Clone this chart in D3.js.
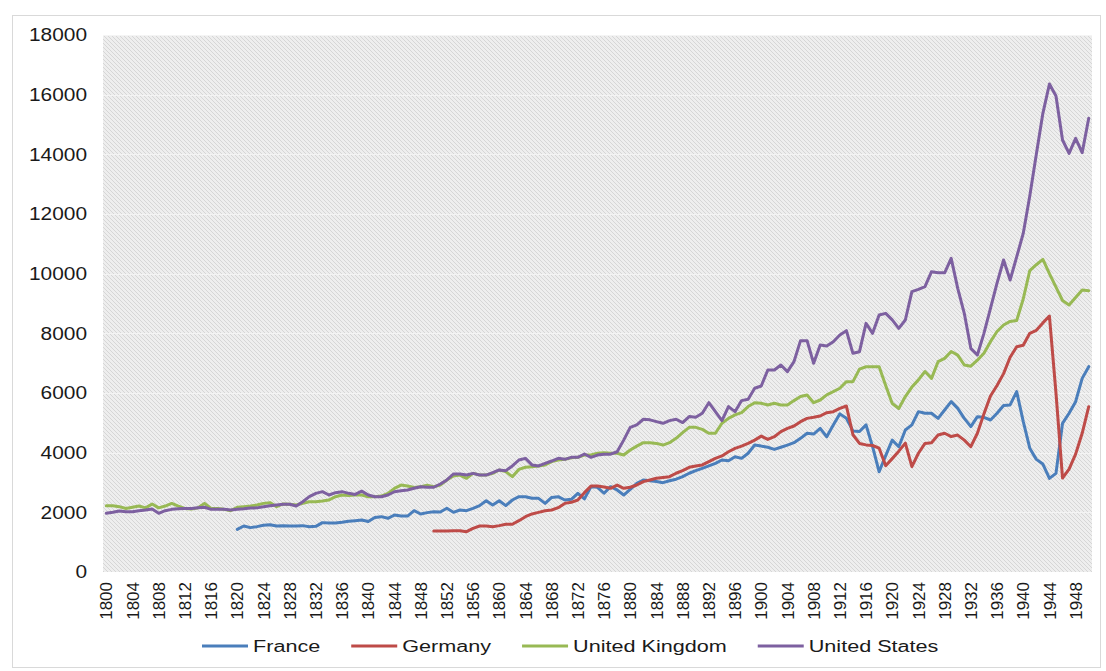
<!DOCTYPE html>
<html>
<head>
<meta charset="utf-8">
<script src="https://cdn.jsdelivr.net/npm/d3@7"></script>
<style>
  body { margin: 0; background: #fff; }
  svg { display: block; font-family: "Liberation Sans", Arial, sans-serif; }
  .axis text { fill: #1a1a1a; }
</style>
</head>
<body>
<div id="container"></div>
<script>
var width = 1106;
var height = 671;

// years 1800..1950
var years = d3.range(1800, 1951);

var ukValues = [
  2220, 2220, 2190, 2130, 2170, 2210, 2150, 2280, 2150, 2210,
  2300, 2210, 2130, 2110, 2150, 2300, 2130, 2130, 2100, 2055,
  2170, 2190, 2210, 2245, 2300, 2325, 2190, 2280, 2270, 2245,
  2300, 2355, 2355, 2380, 2413, 2525, 2580, 2560, 2580, 2580,
  2525, 2525, 2545, 2637, 2805, 2915, 2880, 2830, 2860, 2905,
  2860, 2915, 3085, 3218, 3250, 3140, 3307, 3250, 3250, 3307,
  3420, 3363, 3196, 3440, 3510, 3531, 3555, 3590, 3700, 3754,
  3776, 3830, 3843, 3920, 3920, 3978, 4000, 3980, 3980, 3920,
  4090, 4220, 4335, 4335, 4310, 4255, 4335, 4480, 4670, 4850,
  4850, 4780, 4650, 4650, 4985, 5150, 5265, 5340, 5545, 5675,
  5655, 5600, 5655, 5600, 5600, 5745, 5880, 5935, 5675, 5765,
  5935, 6045, 6160, 6380, 6380, 6800, 6880, 6880, 6880, 6250,
  5650, 5480, 5880, 6200, 6440, 6720, 6490, 7050, 7160, 7390,
  7270, 6940, 6900, 7100, 7330, 7720, 8060, 8280, 8400, 8430,
  9150, 10100, 10300, 10480, 10000, 9550, 9100, 8950, 9200, 9450,
  9430
];

var usValues = [
  1967, 2000, 2045, 2020, 2020, 2055, 2080, 2110, 1967, 2055,
  2100, 2120, 2130, 2130, 2150, 2170, 2100, 2100, 2100, 2080,
  2100, 2120, 2145, 2150, 2190, 2220, 2245, 2270, 2270, 2210,
  2355, 2525, 2637, 2693, 2580, 2660, 2693, 2637, 2600, 2710,
  2580, 2525, 2525, 2580, 2690, 2725, 2750, 2805, 2860, 2840,
  2840, 2950, 3085, 3285, 3285, 3250, 3307, 3250, 3250, 3330,
  3420, 3397, 3555, 3754, 3810, 3590, 3555, 3643, 3720, 3810,
  3776, 3843, 3843, 3955, 3843, 3920, 3950, 3950, 4030, 4420,
  4850, 4930, 5120, 5100, 5040, 4985, 5075, 5120, 5010, 5210,
  5185, 5320, 5675, 5375, 5075, 5545, 5375, 5745, 5790, 6160,
  6235, 6770, 6770, 6940, 6715, 7050, 7755, 7755, 6995, 7610,
  7575, 7720, 7945, 8090, 7330, 7385, 8335, 8000, 8615, 8670,
  8450, 8168, 8447, 9397, 9475, 9564, 10067, 10030, 10030, 10514,
  9508, 8670, 7497, 7274, 8000, 8838, 9680, 10458, 9788, 10560,
  11350, 12600, 14000, 15375, 16358, 15955, 14481, 14034, 14537, 14056,
  15207
];

// France starts in 1820
var franceValues = [
  null, null, null, null, null, null, null, null, null, null,
  null, null, null, null, null, null, null, null, null, null,
  1430, 1543, 1487, 1520, 1565, 1587, 1543, 1554, 1543, 1543,
  1554, 1520, 1530, 1655, 1643, 1643, 1665, 1700, 1720, 1743,
  1690, 1830, 1855, 1800, 1910, 1875, 1875, 2055, 1945, 1990,
  2020, 2010, 2135, 2000, 2078, 2055, 2135, 2225, 2390, 2245,
  2390, 2225, 2413, 2525, 2525, 2470, 2470, 2300, 2500, 2525,
  2413, 2435, 2637, 2450, 2860, 2840, 2640, 2860, 2750, 2580,
  2770, 2970, 3085, 3060, 3030, 2995, 3060, 3110, 3195, 3310,
  3400, 3475, 3555, 3640, 3755, 3730, 3865, 3810, 3980, 4255,
  4220, 4180, 4110, 4180, 4255, 4335, 4480, 4650, 4625, 4815,
  4535, 4930, 5300, 5150, 4730, 4710, 4930, 4200, 3360, 3900,
  4420, 4200, 4760, 4930, 5375, 5320, 5320, 5150, 5430, 5710,
  5486, 5150, 4872, 5207, 5185, 5095, 5320, 5580, 5600, 6045,
  5050, 4150, 3775, 3620, 3140, 3307, 4984, 5320, 5710, 6490,
  6883
];

// Germany starts in 1850
var germanyValues = [
  null, null, null, null, null, null, null, null, null, null,
  null, null, null, null, null, null, null, null, null, null,
  null, null, null, null, null, null, null, null, null, null,
  null, null, null, null, null, null, null, null, null, null,
  null, null, null, null, null, null, null, null, null, null,
  1375, 1375, 1375, 1385, 1385, 1352, 1465, 1543, 1543, 1520,
  1554, 1600, 1600, 1720, 1855, 1945, 2000, 2055, 2078, 2157,
  2300, 2335, 2413, 2660, 2880, 2880, 2850, 2805, 2915, 2805,
  2840, 2915, 3030, 3085, 3140, 3170, 3195, 3310, 3400, 3510,
  3555, 3590, 3700, 3810, 3890, 4030, 4145, 4220, 4310, 4420,
  4555, 4445, 4535, 4705, 4815, 4895, 5040, 5150, 5185, 5230,
  5340, 5375, 5485, 5565, 4600, 4310, 4260, 4240, 4150, 3560,
  3800, 4050, 4320, 3530, 3980, 4310, 4330, 4590, 4650, 4540,
  4590, 4420, 4200, 4650, 5300, 5900, 6250, 6650, 7200, 7550,
  7600, 8000, 8100, 8350, 8580, 6000, 3150, 3450, 3950, 4650,
  5540
];

var seriesNames = ["France", "Germany", "United Kingdom", "United States"];
var seriesColors = ["#4a7ebb", "#be4b48", "#98b954", "#7d60a0"];
var yTicks = d3.range(0, 18001, 2000);

var series = [franceValues, germanyValues, ukValues, usValues].map(function(vals, i) {
  return {
    name: seriesNames[i],
    color: seriesColors[i],
    points: years.map(function(yr, j) { return { year: yr, value: vals[j] }; })
  };
});

var svg = d3.select("div#container").append("svg")
    .attr("width", width)
    .attr("height", height);

// chart frame
svg.append("rect")
    .attr("x", 12.5).attr("y", 15.5)
    .attr("width", 1088).attr("height", 652)
    .attr("fill", "#fff")
    .attr("stroke", "#d9d9d9");

var plot = { left: 103, right: 1092, top: 35, bottom: 572 };

var x = d3.scaleBand()
    .domain(years)
    .range([plot.left, plot.right]);

var y = d3.scaleLinear()
    .domain([0, 18000])
    .range([plot.bottom, plot.top]);

// hatched plot background
var defs = svg.append("defs");
var pat = defs.append("pattern")
    .attr("id", "hatch")
    .attr("patternUnits", "userSpaceOnUse")
    .attr("width", 4).attr("height", 4);
pat.append("rect").attr("width", 4).attr("height", 4).attr("fill", "#eeeeee");
pat.append("path")
    .attr("d", "M-1,-1 L5,5 M-1,3 L1,5 M3,-1 L5,1")
    .attr("stroke", "#d6d6d6")
    .attr("stroke-width", 1);

svg.append("rect")
    .attr("x", plot.left).attr("y", plot.top)
    .attr("width", plot.right - plot.left)
    .attr("height", plot.bottom - plot.top)
    .attr("fill", "url(#hatch)");

// horizontal gridlines
svg.append("g")
    .selectAll("line")
    .data(yTicks.slice(1))
    .enter()
    .append("line")
    .attr("x1", plot.left).attr("x2", plot.right)
    .attr("y1", function(d) { return Math.round(y(d)) + 0.5; })
    .attr("y2", function(d) { return Math.round(y(d)) + 0.5; })
    .attr("stroke", "#f4f4f4")
    .attr("stroke-width", 1);

// y axis
var yAxis = d3.axisLeft(y)
    .tickValues(yTicks)
    .tickSize(0)
    .tickPadding(16)
    .tickFormat(d3.format("d"));

var gy = svg.append("g")
    .attr("class", "axis")
    .attr("transform", "translate(" + plot.left + ",0)")
    .call(yAxis);
gy.select(".domain").remove();
gy.selectAll("text")
    .style("font-size", "18px")
    .attr("font-family", null)
    .each(function() {
      var len = this.getComputedTextLength();
      d3.select(this).attr("textLength", len * 1.16).attr("lengthAdjust", "spacingAndGlyphs");
    });

// x axis
var xAxis = d3.axisBottom(x)
    .tickValues(years.filter(function(d) { return (d - 1800) % 4 === 0; }))
    .tickSize(0);

var gx = svg.append("g")
    .attr("class", "axis")
    .attr("transform", "translate(0," + plot.bottom + ")")
    .call(xAxis);
gx.select(".domain").remove();
gx.selectAll("text")
    .style("font-size", "17px")
    .attr("font-family", null)
    .attr("y", 0).attr("x", 0)
    .attr("dy", "0.36em")
    .attr("text-anchor", "end")
    .attr("transform", "translate(0,10) rotate(-90)");

// lines
var line = d3.line()
    .defined(function(d) { return d.value !== null; })
    .x(function(d) { return x(d.year) + x.bandwidth() / 2; })
    .y(function(d) { return y(d.value); });

svg.append("g")
    .selectAll("path")
    .data(series)
    .enter()
    .append("path")
    .attr("d", function(d) { return line(d.points); })
    .attr("fill", "none")
    .attr("stroke", function(d) { return d.color; })
    .attr("stroke-width", 3)
    .attr("stroke-linejoin", "round")
    .attr("stroke-linecap", "round");

// legend
var legend = svg.append("g").attr("transform", "translate(202,646)");
var lx = 0;
series.forEach(function(s) {
  var item = legend.append("g").attr("transform", "translate(" + lx + ",0)");
  item.append("line")
      .attr("x1", 0).attr("x2", 46)
      .attr("y1", 0).attr("y2", 0)
      .attr("stroke", s.color)
      .attr("stroke-width", 3);
  var t = item.append("text")
      .attr("x", 51)
      .attr("dy", "0.35em")
      .attr("fill", "#1a1a1a")
      .style("font-size", "16px")
      .text(s.name);
  var len = t.node().getComputedTextLength() * 1.35;
  t.attr("textLength", len).attr("lengthAdjust", "spacingAndGlyphs");
  lx += 51 + len + 31;
});
</script>
</body>
</html>
